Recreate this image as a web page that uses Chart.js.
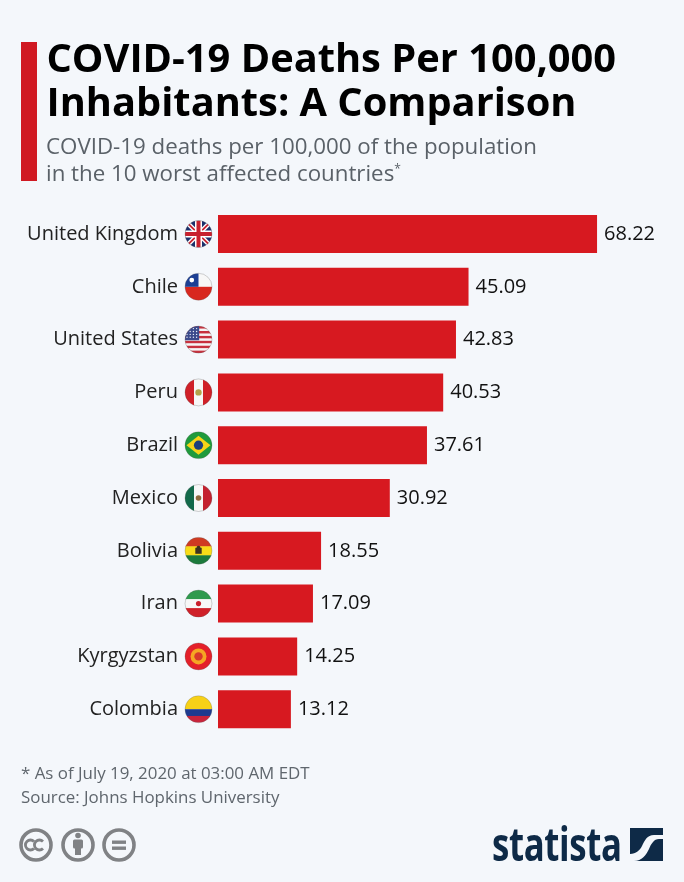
<!DOCTYPE html>
<html>
<head>
<meta charset="utf-8">
<script src="https://cdn.jsdelivr.net/npm/chart.js@4"></script>
<style>
  html, body { margin: 0; padding: 0; background: #f4f7fb; }
  body { width: 684px; height: 882px; position: relative; overflow: hidden; font-family: "Open Sans", sans-serif; }
  #chart { position: absolute; left: 0; top: 0; }
  .abs { position: absolute; white-space: nowrap; }
  #accent { left: 21px; top: 42px; width: 16px; height: 139px; background: #d01922; }
  .title { left: 46.5px; font-size: 39.8px; font-weight: 700; color: #000; line-height: 44px; }
  .sub { left: 46px; font-size: 22.3px; color: #5a6168; line-height: 27px; }
  .sub sup { font-size: 12px; line-height: 0; vertical-align: 8px; }
  .foot { left: 21px; font-size: 16.9px; color: #5f666d; line-height: 24px; }
  #logo { left: 492px; top: 813px; font-size: 47px; font-weight: 700; color: #0e2a47; line-height: 60px; transform-origin: left top; transform: scaleX(0.74); letter-spacing: -0.5px; }
</style>
</head>
<body>
<canvas id="chart" width="684" height="882"></canvas>
<div class="abs" id="accent"></div>
<div class="abs title" style="top:35px">COVID-19 Deaths Per 100,000</div>
<div class="abs title" style="top:79px">Inhabitants: A Comparison</div>
<div class="abs sub" style="top:132px">COVID-19 deaths per 100,000 of the population</div>
<div class="abs sub" style="top:159px">in the 10 worst affected countries<sup>*</sup></div>
<div class="abs foot" style="top:761px">* As of July 19, 2020 at 03:00 AM EDT</div>
<div class="abs foot" style="top:785px">Source: Johns Hopkins University</div>

<svg class="abs" style="left:18px;top:826px" width="122" height="38" viewBox="0 0 122 38">
  <g fill="none" stroke="#808285" stroke-width="3.6">
    <circle cx="18" cy="19" r="15"/>
    <circle cx="60" cy="19" r="15"/>
    <circle cx="101" cy="19" r="15"/>
    <path d="M16 15.5a5 5 0 1 0 0 7M25 15.5a5 5 0 1 0 0 7" stroke-width="2.8"/>
  </g>
  <g fill="#808285">
    <circle cx="60" cy="9.5" r="2.8"/>
    <rect x="55" y="13.5" width="10" height="9" rx="1.5"/>
    <rect x="57" y="20" width="6" height="9"/>
    <rect x="94" y="14.5" width="14" height="3.4"/>
    <rect x="94" y="20.5" width="14" height="3.4"/>
  </g>
</svg>
<div class="abs" id="logo">statista</div>
<svg class="abs" style="left:630px;top:828px" width="33" height="33" viewBox="0 0 33 33">
  <rect width="33" height="33" fill="#0e2a47"/>
  <path d="M33 7 H24 C17 7 15 12 12 18 C10 22 6 26 0 26 V33 H4 C12 33 16 27 19 21 C21 16 24 11 29 11 H33 Z" fill="#f4f7fb"/>
</svg>

<script>
const countries = ["United Kingdom", "Chile", "United States", "Peru", "Brazil", "Mexico", "Bolivia", "Iran", "Kyrgyzstan", "Colombia"];
const deaths = [68.22, 45.09, 42.83, 40.53, 37.61, 30.92, 18.55, 17.09, 14.25, 13.12];
const valueLabels = ["68.22", "45.09", "42.83", "40.53", "37.61", "30.92", "18.55", "17.09", "14.25", "13.12"];

const FLAG_X = 198.5;
const FLAG_R = 13.5;

function stripes(ctx, cx, cy, r, colors) {
  const h = (2 * r) / colors.length;
  colors.forEach((c, i) => {
    ctx.fillStyle = c;
    ctx.fillRect(cx - r, cy - r + i * h, 2 * r, h + 0.5);
  });
}
function vstripes(ctx, cx, cy, r, colors) {
  const w = (2 * r) / colors.length;
  colors.forEach((c, i) => {
    ctx.fillStyle = c;
    ctx.fillRect(cx - r + i * w, cy - r, w + 0.5, 2 * r);
  });
}
function dot(ctx, x, y, r, color) {
  ctx.fillStyle = color;
  ctx.beginPath();
  ctx.arc(x, y, r, 0, Math.PI * 2);
  ctx.fill();
}

const flagPainters = {
  "United Kingdom": (ctx, x, y, r) => {
    ctx.fillStyle = "#1b2f6b";
    ctx.fillRect(x - r, y - r, 2 * r, 2 * r);
    const line = (x1, y1, x2, y2, w, c) => {
      ctx.strokeStyle = c; ctx.lineWidth = w;
      ctx.beginPath(); ctx.moveTo(x1, y1); ctx.lineTo(x2, y2); ctx.stroke();
    };
    line(x - r, y - r, x + r, y + r, 4.5, "#fff");
    line(x - r, y + r, x + r, y - r, 4.5, "#fff");
    line(x - r, y - r, x + r, y + r, 1.8, "#c8202e");
    line(x - r, y + r, x + r, y - r, 1.8, "#c8202e");
    line(x, y - r, x, y + r, 7, "#fff");
    line(x - r, y, x + r, y, 7, "#fff");
    line(x, y - r, x, y + r, 4, "#c8202e");
    line(x - r, y, x + r, y, 4, "#c8202e");
  },
  "Chile": (ctx, x, y, r) => {
    stripes(ctx, x, y, r, ["#f7f7f7", "#d8281f"]);
    ctx.fillStyle = "#1c3f94";
    ctx.fillRect(x - r, y - r, r, r);
    dot(ctx, x - r / 2, y - r / 2, 2.4, "#fff");
  },
  "United States": (ctx, x, y, r) => {
    const rows = 11;
    for (let i = 0; i < rows; i++) {
      ctx.fillStyle = i % 2 === 0 ? "#c8313e" : "#f5f5f5";
      ctx.fillRect(x - r, y - r + (i * 2 * r) / rows, 2 * r, (2 * r) / rows + 0.5);
    }
    ctx.fillStyle = "#3b4a8c";
    ctx.fillRect(x - r, y - r, r * 1.05, r * 1.05);
    for (let a = 0; a < 4; a++) {
      for (let b = 0; b < 4; b++) {
        dot(ctx, x - r + 2 + b * 3.2, y - r + 2.5 + a * 2.9, 0.7, "#e8ecf5");
      }
    }
  },
  "Peru": (ctx, x, y, r) => {
    vstripes(ctx, x, y, r, ["#d02028", "#f7f7f7", "#d02028"]);
    dot(ctx, x, y, 3.2, "#b3a24a");
  },
  "Brazil": (ctx, x, y, r) => {
    ctx.fillStyle = "#1f9a3c";
    ctx.fillRect(x - r, y - r, 2 * r, 2 * r);
    ctx.fillStyle = "#f7d417";
    ctx.beginPath();
    ctx.moveTo(x - r + 1.5, y); ctx.lineTo(x, y - r + 4); ctx.lineTo(x + r - 1.5, y); ctx.lineTo(x, y + r - 4);
    ctx.closePath();
    ctx.fill();
    dot(ctx, x, y, 4.6, "#1d3f7c");
  },
  "Mexico": (ctx, x, y, r) => {
    vstripes(ctx, x, y, r, ["#12694a", "#f7f7f7", "#c4212f"]);
    dot(ctx, x, y, 2.8, "#8f6a3e");
  },
  "Bolivia": (ctx, x, y, r) => {
    stripes(ctx, x, y, r, ["#cf3b22", "#f8dc18", "#1c7a3c"]);
    ctx.fillStyle = "#3d3320";
    ctx.fillRect(x - 3.2, y - 3, 6.4, 6);
    dot(ctx, x, y - 3, 2, "#3d3320");
  },
  "Iran": (ctx, x, y, r) => {
    stripes(ctx, x, y, r, ["#2f9a4e", "#f7f7f7", "#cf2029"]);
    dot(ctx, x, y, 2.6, "#c9202c");
  },
  "Kyrgyzstan": (ctx, x, y, r) => {
    ctx.fillStyle = "#e4202a";
    ctx.fillRect(x - r, y - r, 2 * r, 2 * r);
    dot(ctx, x, y, 8, "#f5a623");
    dot(ctx, x, y, 4.2, "#d8382a");
  },
  "Colombia": (ctx, x, y, r) => {
    ctx.fillStyle = "#f7d117";
    ctx.fillRect(x - r, y - r, 2 * r, r);
    ctx.fillStyle = "#1e3a8f";
    ctx.fillRect(x - r, y, 2 * r, r / 2 + 0.5);
    ctx.fillStyle = "#c9243b";
    ctx.fillRect(x - r, y + r / 2, 2 * r, r / 2);
  }
};

const flagsAndValues = {
  id: "flagsAndValues",
  afterDatasetsDraw(chart) {
    const ctx = chart.ctx;
    const meta = chart.getDatasetMeta(0);
    const yScale = chart.scales.y;
    countries.forEach((name, i) => {
      const cy = yScale.getPixelForValue(i);
      ctx.save();
      ctx.beginPath();
      ctx.arc(FLAG_X, cy, FLAG_R, 0, Math.PI * 2);
      ctx.clip();
      flagPainters[name](ctx, FLAG_X, cy, FLAG_R);
      ctx.restore();
      // thin outline, the white parts of the flags need it
      ctx.save();
      ctx.strokeStyle = "rgba(90,90,90,0.35)";
      ctx.lineWidth = 0.8;
      ctx.beginPath();
      ctx.arc(FLAG_X, cy, FLAG_R, 0, Math.PI * 2);
      ctx.stroke();
      ctx.restore();
      // value labels to the right of the bars
      ctx.save();
      ctx.fillStyle = "#111";
      ctx.font = '20px "Open Sans"';
      ctx.textBaseline = "middle";
      ctx.textAlign = "left";
      ctx.fillText(valueLabels[i], meta.data[i].x + 7, cy);
      ctx.restore();
    });
  }
};

new Chart(document.getElementById("chart"), {
  type: "bar",
  data: {
    labels: countries,
    datasets: [{
      data: deaths,
      backgroundColor: "#d71920",
      barPercentage: 0.72,
      categoryPercentage: 1
    }]
  },
  options: {
    indexAxis: "y",
    responsive: false,
    animation: false,
    devicePixelRatio: 1,
    layout: { padding: { top: 207.6, bottom: 146.4, left: 0, right: 21.5 } },
    plugins: { legend: { display: false }, tooltip: { enabled: false } },
    scales: {
      x: { display: false, min: 0, max: 80 },
      y: {
        afterFit: (axis) => { axis.width = 218; },
        grid: { display: false },
        border: { display: false },
        ticks: { color: "#222", padding: 32, font: { family: "Open Sans", size: 20 } }
      }
    }
  },
  plugins: [flagsAndValues]
});
</script>
</body>
</html>
